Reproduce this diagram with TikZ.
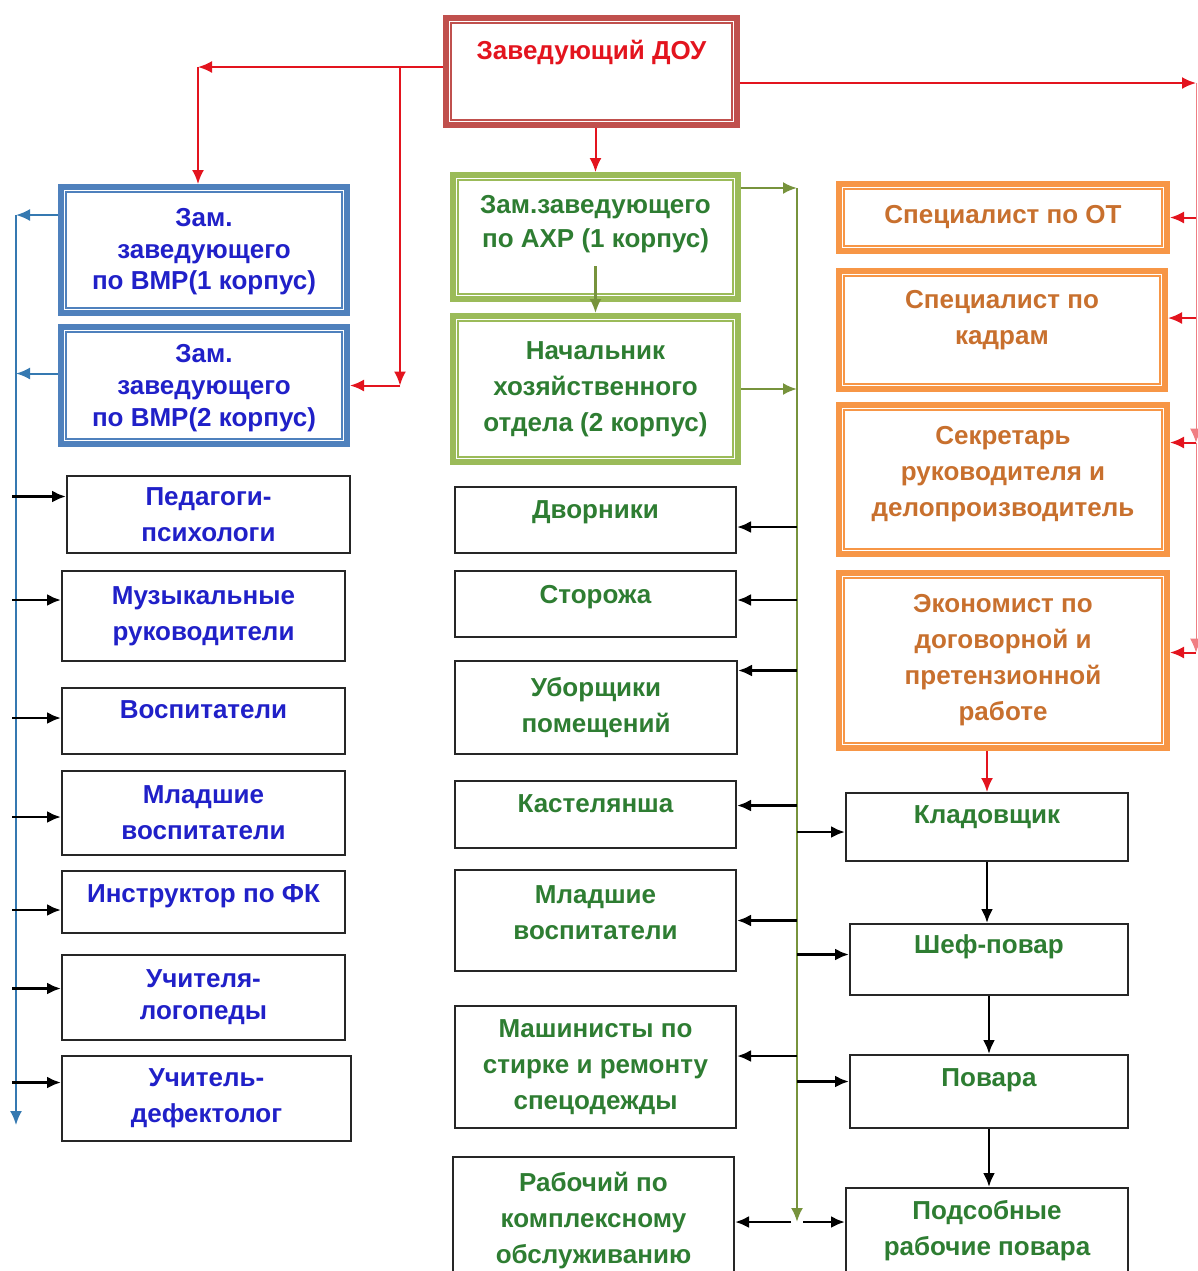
\documentclass[tikz,border=0pt]{standalone}
\usepackage{fontspec}
\setmainfont{Liberation Sans}
\usepackage{tikz}
\usetikzlibrary{arrows.meta}

\definecolor{zavred}{HTML}{C0504D}
\definecolor{arrred}{HTML}{E3141E}
\definecolor{vmpblue}{HTML}{4F81BD}
\definecolor{txtblue}{HTML}{2020C8}
\definecolor{lineblue}{HTML}{3579B1}
\definecolor{axrgreen}{HTML}{9BBB59}
\definecolor{txtgreen}{HTML}{2E7D32}
\definecolor{olive}{HTML}{77933C}
\definecolor{otorange}{HTML}{F79646}
\definecolor{txtorange}{HTML}{C8702E}

\tikzset{
  frame/.style={draw=#1, line width=3pt, inner sep=2pt, align=center,
    path picture={\draw[#1, line width=0.8pt]
      ([shift={(2.6pt,-2.6pt)}]path picture bounding box.north west) rectangle
      ([shift={(-2.6pt,2.6pt)}]path picture bounding box.south east);}},
  plain/.style={draw=black!85, line width=1pt, inner sep=1pt, align=center},
  lift/.style={text depth=#1},
  sz/.style 2 args={minimum width=#1, minimum height=#2},
}

\begin{document}
\begin{tikzpicture}[x=0.5pt, y=-0.5pt, >={Latex[length=7pt,width=6pt]},
    font=\fontsize{13}{18}\selectfont\bfseries]
    \useasboundingbox (0,0) rectangle (1198,1271);
    \node [frame=zavred, text=arrred, sz={145.5pt}{53.5pt}, lift=22pt] (zav) at (591.5, 71.5) {Заведующий ДОУ};
    \node [frame=vmpblue, text=txtblue, sz={143pt}{63pt}, lift=1pt, font=\fontsize{13}{15.8}\selectfont\bfseries] (vmp1) at (204, 250) {Зам.\\ заведующего\\ по ВМР(1 корпус)};
    \node [frame=vmpblue, text=txtblue, sz={143pt}{58.5pt}, lift=0pt, font=\fontsize{13}{15.8}\selectfont\bfseries] (vmp2) at (204, 385.5) {Зам.\\ заведующего\\ по ВМР(2 корпус)};
    \node [frame=axrgreen, text=txtgreen, sz={142.5pt}{62pt}, lift=16pt, font=\fontsize{13}{17}\selectfont\bfseries] (axr) at (595.5, 237) {Зам.заведующего\\ по АХР (1 корпус)};
    \node [frame=axrgreen, text=txtgreen, sz={142.5pt}{73pt}] (nach) at (595.5, 389) {Начальник\\ хозяйственного\\ отдела (2 корпус)};
    \node [frame=otorange, text=txtorange, sz={164pt}{33.5pt}] (ot) at (1003, 217.5) {Специалист по ОТ};
    \node [frame=otorange, text=txtorange, sz={163pt}{59pt}, lift=13pt] (kadr) at (1002, 330) {Специалист по\\ кадрам};
    \node [frame=otorange, text=txtorange, sz={164pt}{74.5pt}, lift=8pt] (sekr) at (1003, 479.5) {Секретарь\\ руководителя и\\ делопроизводитель};
    \node [frame=otorange, text=txtorange, sz={164pt}{87.5pt}] (econ) at (1003, 660.5) {Экономист по\\ договорной и\\ претензионной\\ работе};
    \node [plain, text=txtblue, sz={141.5pt}{38.5pt}] (ped) at (208.5, 514.5) {Педагоги-\\ психологи};
    \node [plain, text=txtblue, sz={141.5pt}{45pt}] (muz) at (203.5, 616) {Музыкальные\\ руководители};
    \node [plain, text=txtblue, sz={141.5pt}{33pt}, lift=11pt] (vosp) at (203.5, 721) {Воспитатели};
    \node [plain, text=txtblue, sz={141.5pt}{42pt}] (mlad) at (203.5, 813) {Младшие\\ воспитатели};
    \node [plain, text=txtblue, sz={141.5pt}{31pt}, lift=9pt] (instr) at (203.5, 902) {Инструктор по ФК};
    \node [plain, text=txtblue, sz={141.5pt}{42.5pt}, font=\fontsize{13}{16}\selectfont\bfseries] (log) at (203.5, 997.5) {Учителя-\\ логопеды};
    \node [plain, text=txtblue, sz={144.5pt}{42.5pt}] (defk) at (206.5, 1098.5) {Учитель-\\ дефектолог};
    \node [plain, text=txtgreen, sz={140.5pt}{33pt}, lift=10pt] (dvor) at (595.5, 520) {Дворники};
    \node [plain, text=txtgreen, sz={140.5pt}{33pt}, lift=10pt] (stor) at (595.5, 604) {Сторожа};
    \node [plain, text=txtgreen, sz={141pt}{46.5pt}] (ubor) at (596, 707.5) {Уборщики\\ помещений};
    \node [plain, text=txtgreen, sz={140.5pt}{33.5pt}, lift=11pt] (kast) at (595.5, 814.5) {Кастелянша};
    \node [plain, text=txtgreen, sz={140.5pt}{50.5pt}, lift=8pt] (mlad2) at (595.5, 920.5) {Младшие\\ воспитатели};
    \node [plain, text=txtgreen, sz={140.5pt}{61pt}] (mash) at (595.5, 1067) {Машинисты по\\ стирке и ремонту\\ спецодежды};
    \node [plain, text=txtgreen, sz={140.5pt}{64pt}] (rab) at (593.5, 1221) {Рабочий по\\ комплексному\\ обслуживанию};
    \node [plain, text=txtgreen, sz={141pt}{34pt}, lift=12pt] (klad) at (987, 827) {Кладовщик};
    \node [plain, text=txtgreen, sz={139pt}{35.5pt}, lift=15.5pt] (shef) at (989, 959.5) {Шеф-повар};
    \node [plain, text=txtgreen, sz={139pt}{36.5pt}, lift=13.5pt] (povar) at (989, 1091.5) {Повара};
    \node [plain, text=txtgreen, sz={141pt}{48.5pt}, lift=8.5pt] (podsob) at (987, 1236.5) {Подсобные\\ рабочие повара};
    \coordinate (rl) at (198, 67);
    \coordinate (rm) at (400, 67);
    \coordinate (rr) at (1196, 83);
    \coordinate (gt) at (797, 188);
    \coordinate (gb) at (797, 1222);
    \coordinate (bt) at (16, 215);
    \coordinate (bb) at (16, 1125);
    % red
    \draw [arrred, line width=1pt, ->] (zav.west |- rl) to (rl);
    \draw [arrred, line width=1pt, ->] (rl) to (rl |- vmp1.north);
    \draw [arrred, line width=1pt, ->] (rm) to (rm |- vmp2.east);
    \draw [arrred, line width=1pt, ->] (rm |- vmp2.east) to (vmp2.east);
    \draw [arrred, line width=1pt, ->] (zav.south -| axr.north) to (axr.north);
    \draw [arrred, line width=1pt, ->] (zav.east |- rr) to (rr);
    \draw [arrred!55, line width=0.5pt, ->] (rr) to ([yshift=18.5pt]rr |- sekr.east);
    \draw [arrred!55, line width=0.5pt, ->] ([yshift=18.5pt]rr |- sekr.east) to ([yshift=4pt]rr |- econ.east);
    \draw [arrred, line width=1pt, ->] (rr |- ot.east) to (ot.east);
    \draw [arrred, line width=1pt, ->] ([yshift=6pt]rr |- kadr.east) to ([yshift=6pt]kadr.east);
    \draw [arrred, line width=1pt, ->] ([yshift=18.5pt]rr |- sekr.east) to ([yshift=18.5pt]sekr.east);
    \draw [arrred, line width=1pt, ->] ([yshift=4pt]rr |- econ.east) to ([yshift=4pt]econ.east);
    \draw [arrred, line width=1pt, ->] (klad.north |- econ.south) to (klad.north);
    % olive
    \draw [olive, line width=1.2pt, ->] (axr.east |- gt) to (gt);
    \draw [olive, line width=1.2pt, ->] (nach.east) to (nach.east -| gt);
    \draw [olive, line width=1.2pt, ->] (gt) to (gb);
    \draw [olive, line width=1.2pt, ->] ([yshift=18pt]axr.south) to (nach.north);
    \draw [line width=1.4pt, ->] ([yshift=-3.5pt]gt |- dvor.east) to ([yshift=-3.5pt]dvor.east);
    \draw [line width=1.4pt, ->] ([yshift=2pt]gt |- stor.east) to ([yshift=2pt]stor.east);
    \draw [line width=1.4pt, ->] ([yshift=18.5pt]gt |- ubor.east) to ([yshift=18.5pt]ubor.east);
    \draw [line width=1.4pt, ->] ([yshift=4.5pt]gt |- kast.east) to ([yshift=4.5pt]kast.east);
    \draw [line width=1.4pt, ->] (gt |- mlad2.east) to (mlad2.east);
    \draw [line width=1.4pt, ->] ([yshift=5.5pt]gt |- mash.east) to ([yshift=5.5pt]mash.east);
    \draw [line width=1.4pt, ->] ([xshift=-3pt]gb) to (gb -| rab.east);
    \draw [line width=1.4pt, ->] ([yshift=-2.5pt]gt |- klad.west) to ([yshift=-2.5pt]klad.west);
    \draw [line width=1.4pt, ->] ([yshift=2.5pt]gt |- shef.west) to ([yshift=2.5pt]shef.west);
    \draw [line width=1.4pt, ->] ([yshift=5pt]gt |- povar.west) to ([yshift=5pt]povar.west);
    \draw [line width=1.4pt, ->] ([xshift=3pt]gb) to (gb -| podsob.west);
    \draw [line width=1.4pt, ->] (klad.south) to (klad.south |- shef.north);
    \draw [line width=1.4pt, ->] (shef.south) to (shef.north |- povar.north);
    \draw [line width=1.4pt, ->] (povar.south) to (povar.south |- podsob.north);
    % blue
    \draw [lineblue, line width=1pt, ->] (vmp1.west |- bt) to (bt);
    \draw [lineblue, line width=1pt, ->] ([yshift=6pt]vmp2.west) to ([yshift=6pt]bt |- vmp2.west);
    \draw [lineblue, line width=1pt, ->] (bt) to (bb);
    \draw [line width=1.4pt, ->] ([xshift=-2pt,yshift=9pt]bt |- ped.west) to ([yshift=9pt]ped.west);
    \draw [line width=1.4pt, ->] ([xshift=-2pt,yshift=8pt]bt |- muz.west) to ([yshift=8pt]muz.west);
    \draw [line width=1.4pt, ->] ([xshift=-2pt,yshift=1.5pt]bt |- vosp.west) to ([yshift=1.5pt]vosp.west);
    \draw [line width=1.4pt, ->] ([xshift=-2pt,yshift=-2pt]bt |- mlad.west) to ([yshift=-2pt]mlad.west);
    \draw [line width=1.4pt, ->] ([xshift=-2pt,yshift=-4pt]bt |- instr.west) to ([yshift=-4pt]instr.west);
    \draw [line width=1.4pt, ->] ([xshift=-2pt,yshift=4.5pt]bt |- log.west) to ([yshift=4.5pt]log.west);
    \draw [line width=1.4pt, ->] ([xshift=-2pt,yshift=8pt]bt |- defk.west) to ([yshift=8pt]defk.west);
\end{tikzpicture}
\end{document}
